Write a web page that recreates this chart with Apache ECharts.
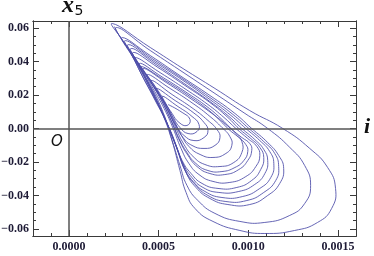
<!DOCTYPE html>
<html>
<head>
<meta charset="utf-8">
<script src="https://cdn.jsdelivr.net/npm/echarts@6/dist/echarts.min.js"></script>
<style>
  html, body { margin: 0; padding: 0; background: #fff; }
  #chart { width: 374px; height: 256px; }
</style>
</head>
<body>
<div id="chart"></div>
<script>
// Phase portrait (i, x5), loops, innermost first
const loopK = [[0.000553,0.0143],[0.000631,0.0096],[0.000675,0.0054],[0.000658,0.0018],[0.000614,0.0036],[0.000575,0.0090]];
const loopJ = [[0.000519,0.0191],[0.000608,0.0131],[0.000686,0.0072],[0.000725,0.0024],[0.000714,-0.0018],[0.000664,-0.0030],[0.000619,0.0006],[0.000575,0.0078],[0.000542,0.0143]];
const loopI = [[0.000486,0.0239],[0.000592,0.0167],[0.000692,0.0096],[0.000753,0.0036],[0.000775,-0.0012],[0.000753,-0.0054],[0.000697,-0.0072],[0.000642,-0.0042],[0.000597,0.0018],[0.000553,0.0107],[0.000514,0.0185]];
const loopH = [[0.000458,0.0287],[0.000575,0.0203],[0.000692,0.0119],[0.000775,0.0048],[0.000825,-0.0006],[0.000842,-0.0054],[0.000814,-0.0101],[0.000753,-0.0119],[0.000686,-0.0101],[0.000636,-0.0054],[0.000592,0.0024],[0.000547,0.0119],[0.000497,0.0215]];
const loopG = [[0.000436,0.0322],[0.000564,0.0239],[0.000692,0.0149],[0.000786,0.0072],[0.000853,0.0006],[0.000897,-0.0048],[0.000908,-0.0101],[0.000875,-0.0149],[0.000803,-0.0173],[0.000731,-0.0155],[0.000669,-0.0107],[0.000625,-0.0036],[0.000581,0.0060],[0.000531,0.0167],[0.000481,0.0251]];
const loopF = [[0.000414,0.0358],[0.000542,0.0275],[0.000686,0.0173],[0.000797,0.0090],[0.000875,0.0024],[0.000931,-0.0030],[0.000964,-0.0078],[0.000964,-0.0143],[0.000919,-0.0203],[0.000842,-0.0227],[0.000758,-0.0215],[0.000692,-0.0167],[0.000642,-0.0096],[0.000597,0],[0.000553,0.0107],[0.000503,0.0209],[0.000453,0.0293]];
const loopE3 = [[0.000403,0.0370],[0.000536,0.0287],[0.000675,0.0191],[0.000775,0.0113],[0.000842,0.0048],[0.000892,-0.0006],[0.000947,-0.0054],[0.000986,-0.0096],[0.000997,-0.0137],[0.000975,-0.0191],[0.000925,-0.0233],[0.000853,-0.0257],[0.000775,-0.0251],[0.000708,-0.0209],[0.000658,-0.0143],[0.000614,-0.0060],[0.000569,0.0048],[0.000519,0.0161],[0.000464,0.0263]];
const loopE2 = [[0.000392,0.0388],[0.000525,0.0304],[0.000664,0.0209],[0.000769,0.0131],[0.000847,0.0060],[0.000903,0],[0.000964,-0.0054],[0.001008,-0.0090],[0.001019,-0.0131],[0.000997,-0.0191],[0.000947,-0.0245],[0.000869,-0.0275],[0.000786,-0.0269],[0.000714,-0.0227],[0.000664,-0.0161],[0.000619,-0.0078],[0.000575,0.0036],[0.000525,0.0149],[0.000469,0.0257],[0.000425,0.0334]];
const loopE1 = [[0.000369,0.0424],[0.000508,0.0334],[0.000653,0.0233],[0.000775,0.0143],[0.000864,0.0066],[0.000931,0],[0.000997,-0.0060],[0.001047,-0.0107],[0.001064,-0.0161],[0.001042,-0.0227],[0.000986,-0.0287],[0.000897,-0.0322],[0.000803,-0.0316],[0.000725,-0.0275],[0.000669,-0.0209],[0.000625,-0.0119],[0.000581,0],[0.000531,0.0119],[0.000469,0.0239],[0.000414,0.0346]];
const loopC5 = [[0.000358,0.0454],[0.000497,0.0364],[0.000647,0.0257],[0.000786,0.0155],[0.000886,0.0066],[0.000947,0],[0.001014,-0.0060],[0.001064,-0.0113],[0.001086,-0.0173],[0.001069,-0.0245],[0.001019,-0.0310],[0.000936,-0.0352],[0.000831,-0.0358],[0.000742,-0.0328],[0.000681,-0.0269],[0.000631,-0.0191],[0.000586,-0.0072],[0.000536,0.0060],[0.000481,0.0191],[0.000397,0.0370]];
const loopC4 = [[0.000347,0.0478],[0.000486,0.0382],[0.000642,0.0269],[0.000786,0.0161],[0.000892,0.0072],[0.000964,0],[0.001036,-0.0066],[0.001086,-0.0125],[0.001108,-0.0191],[0.001092,-0.0269],[0.001036,-0.0334],[0.000947,-0.0376],[0.000836,-0.0382],[0.000747,-0.0352],[0.000686,-0.0293],[0.000636,-0.0209],[0.000592,-0.0090],[0.000536,0.0054],[0.000481,0.0185],[0.000431,0.0293],[0.000381,0.0394]];
const loopC3 = [[0.000331,0.0501],[0.000475,0.0400],[0.000636,0.0287],[0.000786,0.0173],[0.000903,0.0078],[0.000986,0],[0.001064,-0.0072],[0.001119,-0.0137],[0.001142,-0.0209],[0.001125,-0.0293],[0.001064,-0.0358],[0.000969,-0.0406],[0.000853,-0.0412],[0.000758,-0.0376],[0.000692,-0.0316],[0.000642,-0.0233],[0.000597,-0.0107],[0.000542,0.0042],[0.000481,0.0179],[0.000425,0.0299],[0.000369,0.0418]];
const loopC2 = [[0.000314,0.0525],[0.000464,0.0418],[0.000631,0.0299],[0.000786,0.0185],[0.000914,0.0084],[0.001003,0],[0.001086,-0.0078],[0.001147,-0.0149],[0.001169,-0.0227],[0.001153,-0.0310],[0.001086,-0.0382],[0.000992,-0.0430],[0.000875,-0.0436],[0.000775,-0.0400],[0.000703,-0.0334],[0.000647,-0.0251],[0.000603,-0.0119],[0.000547,0.0030],[0.000481,0.0173],[0.000414,0.0304],[0.000353,0.0436]];
const loopC1 = [[0.000297,0.0543],[0.000453,0.0436],[0.000619,0.0316],[0.000786,0.0197],[0.000925,0.0090],[0.001019,0],[0.001108,-0.0084],[0.001169,-0.0161],[0.001197,-0.0239],[0.001175,-0.0328],[0.001108,-0.0400],[0.001008,-0.0454],[0.000886,-0.0454],[0.000786,-0.0418],[0.000708,-0.0352],[0.000653,-0.0263],[0.000608,-0.0131],[0.000553,0.0018],[0.000481,0.0167],[0.000408,0.0316],[0.000342,0.0454]];
const loopB = [[0.000264,0.0603],[0.000453,0.0466],[0.000647,0.0328],[0.000814,0.0209],[0.000981,0.0090],[0.001108,0],[0.001231,-0.0113],[0.001314,-0.0221],[0.001347,-0.0340],[0.001314,-0.0448],[0.001231,-0.0519],[0.001092,-0.0561],[0.000953,-0.0555],[0.000814,-0.0507],[0.000719,-0.0430],[0.000658,-0.0340],[0.000619,-0.0221],[0.000575,-0.0072],[0.000525,0.0078],[0.000453,0.0239],[0.000375,0.0394],[0.000308,0.0513]];
const loopA = [[0.000242,0.0627],[0.000453,0.0484],[0.000636,0.0358],[0.000814,0.0239],[0.001008,0.0107],[0.001192,0],[0.001342,-0.0119],[0.001442,-0.0233],[0.001486,-0.0358],[0.001464,-0.0478],[0.001386,-0.0561],[0.001258,-0.0609],[0.001092,-0.0627],[0.000953,-0.0609],[0.000803,-0.0555],[0.000703,-0.0478],[0.000653,-0.0382],[0.000619,-0.0251],[0.000575,-0.0072],[0.000525,0.0096],[0.000453,0.0257],[0.000369,0.0406],[0.000297,0.0525],[0.000253,0.0609]];

const xRange = [-0.0002, 0.0016];
const yRange = [-0.0642, 0.0642];
const xMajor = [0, 0.0005, 0.0010, 0.0015];
const xMinor = [-0.0001, 0.0001, 0.0002, 0.0003, 0.0004, 0.0006, 0.0007, 0.0008, 0.0009,
                0.0011, 0.0012, 0.0013, 0.0014];
const yMajor = [-0.06, -0.04, -0.02, 0, 0.02, 0.04, 0.06];
const yMinor = [-0.055, -0.05, -0.045, -0.035, -0.03, -0.025, -0.015, -0.01, -0.005,
                0.005, 0.01, 0.015, 0.025, 0.03, 0.035, 0.045, 0.05, 0.055];

const trajectory = [].concat(loopK, loopJ, loopI, loopH, loopG, loopF, loopE3, loopE2, loopE1,
                             loopC5, loopC4, loopC3, loopC2, loopC1, loopB, loopA);

const FRAME = '#3a3a3a';
const SERIF = '"Liberation Serif", "Times New Roman", serif';
const labelFont = {
  color: '#1e1b36',
  fontFamily: SERIF,
  fontWeight: 'bold',
  fontSize: 12
};

// one frame side: either major ticks (+labels) or minor ticks
function frameAxis(range, position, ticks, len, labels, formatter, margin) {
  return {
    type: 'value',
    position: position,
    min: range[0],
    max: range[1],
    splitLine: { show: false },
    axisLine: { show: true, onZero: false, lineStyle: { color: FRAME, width: 1 } },
    axisTick: {
      show: true,
      inside: true,
      length: len,
      customValues: ticks,
      lineStyle: { color: FRAME, width: 1 }
    },
    axisLabel: labels
      ? Object.assign({ show: true, customValues: ticks, formatter: formatter, margin: margin }, labelFont)
      : { show: false }
  };
}

const fmtX = v => v.toFixed(4);
const fmtY = v => (v < 0 ? '\u2212' : '') + Math.abs(v).toFixed(2);

// whole trajectory as one smoothed polyline, projected through the axes
function renderTrajectory(params, api) {
  if (params.dataIndex !== 0) return null;
  return {
    type: 'polyline',
    shape: { points: trajectory.map(p => api.coord(p)), smooth: 0.5 },
    style: { fill: null, stroke: '#4b4ba8', lineWidth: 1, opacity: 0.85 },
    silent: true
  };
}

// axis name pieces, pinned to data positions
function axisName(coord, text, offset, font) {
  return {
    coord: coord,
    label: Object.assign({ show: true, position: 'inside', formatter: text, offset: offset, color: '#111' }, font)
  };
}

const chart = echarts.init(document.getElementById('chart'), null, { renderer: 'canvas' });

const option = {
  animation: false,
  backgroundColor: '#fff',
  grid: { left: 33, right: 18, top: 21, bottom: 20, containLabel: false, outerBoundsMode: 'none' },
  xAxis: [
    frameAxis(xRange, 'bottom', xMajor, 6, true, fmtX, 5),
    frameAxis(xRange, 'bottom', xMinor, 3, false),
    frameAxis(xRange, 'top', xMajor, 6, false),
    frameAxis(xRange, 'top', xMinor, 3, false)
  ],
  yAxis: [
    frameAxis(yRange, 'left', yMajor, 6, true, fmtY, 4),
    frameAxis(yRange, 'left', yMinor, 3, false),
    frameAxis(yRange, 'right', yMajor, 6, false),
    frameAxis(yRange, 'right', yMinor, 3, false)
  ],
  series: [
    {
      type: 'custom',
      coordinateSystem: 'cartesian2d',
      xAxisIndex: 0,
      yAxisIndex: 0,
      data: trajectory,
      renderItem: renderTrajectory,
      clip: true,
      silent: true,
      markLine: {
        silent: true,
        symbol: ['none', 'none'],
        label: { show: false },
        lineStyle: { color: '#555', width: 1.5, type: 'solid' },
        data: [{ xAxis: 0 }, { yAxis: 0 }]
      },
      markPoint: {
        silent: true,
        symbol: 'circle',
        symbolSize: 0,
        data: [
          axisName([0, yRange[1]], 'x', [-1, -15],
                   { fontFamily: SERIF, fontStyle: 'italic', fontWeight: 'bold', fontSize: 24 }),
          axisName([0, yRange[1]], '5', [10, -10],
                   { fontFamily: 'DejaVu Sans', fontSize: 14 }),
          axisName([xRange[1], 0], 'i', [11, -1],
                   { fontFamily: SERIF, fontStyle: 'italic', fontWeight: 'bold', fontSize: 22 }),
          axisName([0, 0], 'O', [-12, 14],
                   { fontFamily: 'DejaVu Sans', fontStyle: 'italic', fontSize: 15 })
        ]
      }
    }
  ]
};

chart.setOption(option);
</script>
</body>
</html>
